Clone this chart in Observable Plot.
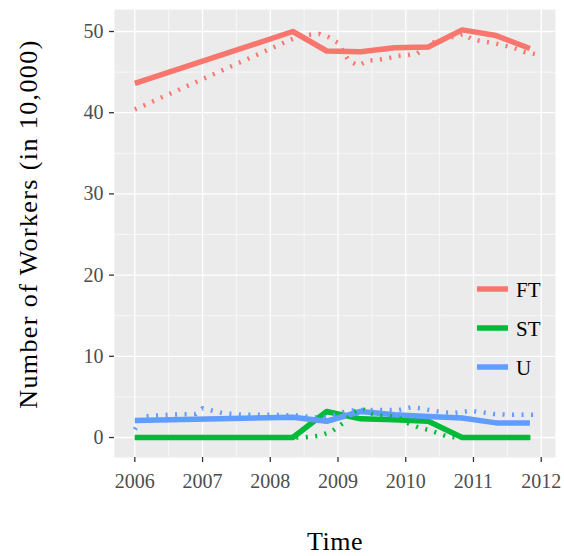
<!DOCTYPE html>
<html><head><meta charset="utf-8">
<script src="https://cdn.jsdelivr.net/npm/d3@7"></script>
<script src="https://cdn.jsdelivr.net/npm/@observablehq/plot@0.6"></script>
<style>body{margin:0;background:#fff}#chart{width:564px;height:556px}</style>
</head><body><div id="chart"></div>
<script>
const series = ["FT", "ST", "U"];
const colors = ["#F8766D", "#00BA38", "#619CFF"];
const xTicks = [2006, 2007, 2008, 2009, 2010, 2011, 2012];
const xMinor = [2006.5, 2007.5, 2008.5, 2009.5, 2010.5, 2011.5];
const yTicks = [0, 10, 20, 30, 40, 50];
const yMinor = [5, 15, 25, 35, 45];

// solid lines (semi-annual)
const solidTime = [2006.0, 2008.333, 2008.833, 2009.333, 2009.833, 2010.333, 2010.833, 2011.333, 2011.833];
const solidFT = [43.6, 50.0, 47.6, 47.5, 48.0, 48.1, 50.2, 49.5, 47.9];
const solidST = [0, 0, 3.2, 2.3, 2.2, 2.0, 0, 0, 0];
const solidU = [2.1, 2.5, 2.0, 3.2, 2.8, 2.6, 2.4, 1.8, 1.8];

// dotted lines
const dotFTTime = [2006.0, 2008.25, 2008.45, 2008.72, 2008.86, 2009.0, 2009.16, 2009.3, 2009.44, 2009.58, 2009.73, 2009.89, 2010.03, 2010.17, 2010.3, 2010.44, 2010.59, 2010.73, 2010.85, 2010.99, 2011.13, 2011.29, 2011.44, 2011.59, 2011.74, 2011.92];
const dotFT = [40.4, 48.8, 49.5, 49.7, 49.3, 48.6, 46.4, 45.8, 46.4, 46.5, 46.7, 47.0, 47.1, 47.3, 48.1, 48.8, 49.1, 49.4, 49.7, 49.0, 48.8, 48.6, 48.3, 48.0, 47.5, 47.2];
const dotSTTime = [2006.0, 2008.5, 2008.7, 2008.9, 2009.08, 2009.2, 2009.34, 2009.46, 2009.64, 2009.79, 2009.93, 2010.05, 2010.2, 2010.35, 2010.48, 2010.62, 2010.75, 2011.92];
const dotST = [0, 0, 0.2, 0.7, 1.8, 3.0, 3.6, 3.0, 2.7, 2.6, 2.3, 1.7, 1.2, 0.9, 0.5, 0.1, 0, 0];
const dotUTime = [2006.0, 2006.12, 2006.5, 2006.9, 2007.0, 2007.15, 2007.3, 2007.6, 2008.0, 2008.4, 2008.75, 2009.0, 2009.14, 2009.4, 2009.9, 2010.07, 2010.22, 2010.4, 2010.55, 2010.7, 2010.96, 2011.13, 2011.3, 2011.5, 2011.92];
const dotU = [1.0, 2.6, 2.8, 2.9, 3.6, 3.3, 3.0, 2.8, 2.8, 2.7, 2.4, 2.9, 3.3, 3.4, 3.4, 3.7, 3.6, 3.3, 3.1, 3.0, 3.3, 3.1, 2.9, 2.8, 2.8];

const solidRows = [];
[solidFT, solidST, solidU].forEach((vals, i) =>
  vals.forEach((v, j) => solidRows.push({time: solidTime[j], value: v, series: series[i]})));
const dotRows = [];
[[dotFTTime, dotFT], [dotSTTime, dotST], [dotUTime, dotU]].forEach(([ts, vals], i) =>
  vals.forEach((v, j) => dotRows.push({time: ts[j], value: v, series: series[i]})));

const font = "'Liberation Serif', 'Times New Roman', serif";
const plot = Plot.plot({
  width: 564, height: 556,
  marginLeft: 114, marginRight: 9, marginTop: 9, marginBottom: 99,
  style: {fontFamily: font, background: "transparent", overflow: "visible"},
  x: {domain: [2005.700, 2012.211]},
  y: {domain: [-2.463, 52.71]},
  color: {domain: series, range: colors},
  marks: [
    Plot.frame({fill: "#EBEBEB", stroke: null}),
    Plot.gridX(xMinor, {stroke: "#fff", strokeOpacity: 1, strokeWidth: 0.6}),
    Plot.gridY(yMinor, {stroke: "#fff", strokeOpacity: 1, strokeWidth: 0.6}),
    Plot.gridX(xTicks, {stroke: "#fff", strokeOpacity: 1, strokeWidth: 1.3}),
    Plot.gridY(yTicks, {stroke: "#fff", strokeOpacity: 1, strokeWidth: 1.3}),
    Plot.axisX(xTicks, {tickSize: 5, tickPadding: 11, tickFormat: d3.format("d"), fontSize: 20, fill: "#4D4D4D", stroke: "#333", strokeWidth: 1.3, label: null}),
    Plot.axisY(yTicks, {tickSize: 5, tickPadding: 6, fontSize: 20, fill: "#4D4D4D", stroke: "#333", strokeWidth: 1.3, label: null}),
    Plot.line(solidRows, {x: "time", y: "value", z: "series", stroke: "series", strokeWidth: 5.5, strokeLinecap: "butt", strokeLinejoin: "round"}),
    Plot.line(dotRows, {x: "time", y: "value", z: "series", stroke: "series", strokeWidth: 4.5, strokeLinecap: "butt", strokeDasharray: "2,7.5"})
  ]
});

const svg = d3.select(plot);
svg.append("text")
  .attr("transform", "translate(37,224) rotate(-90)")
  .attr("text-anchor", "middle")
  .attr("font-family", font).attr("font-size", 26).attr("letter-spacing", 1.4)
  .attr("fill", "#000")
  .text("Number of Workers (in 10,000)");
svg.append("text")
  .attr("x", 335).attr("y", 550)
  .attr("text-anchor", "middle")
  .attr("font-family", font).attr("font-size", 26).attr("letter-spacing", 0.5)
  .attr("fill", "#000")
  .text("Time");

const legendY = [289, 328, 367];
const lg = svg.append("g");
series.forEach((s, i) => {
  lg.append("line").attr("x1", 477).attr("x2", 508).attr("y1", legendY[i]).attr("y2", legendY[i])
    .attr("stroke", colors[i]).attr("stroke-width", 5.5);
  lg.append("text").attr("x", 516).attr("y", legendY[i] + 8)
    .attr("text-anchor", "start")
    .attr("font-family", font).attr("font-size", 21).attr("fill", "#000").text(s);
});

document.getElementById("chart").appendChild(plot);
</script>
</body></html>
